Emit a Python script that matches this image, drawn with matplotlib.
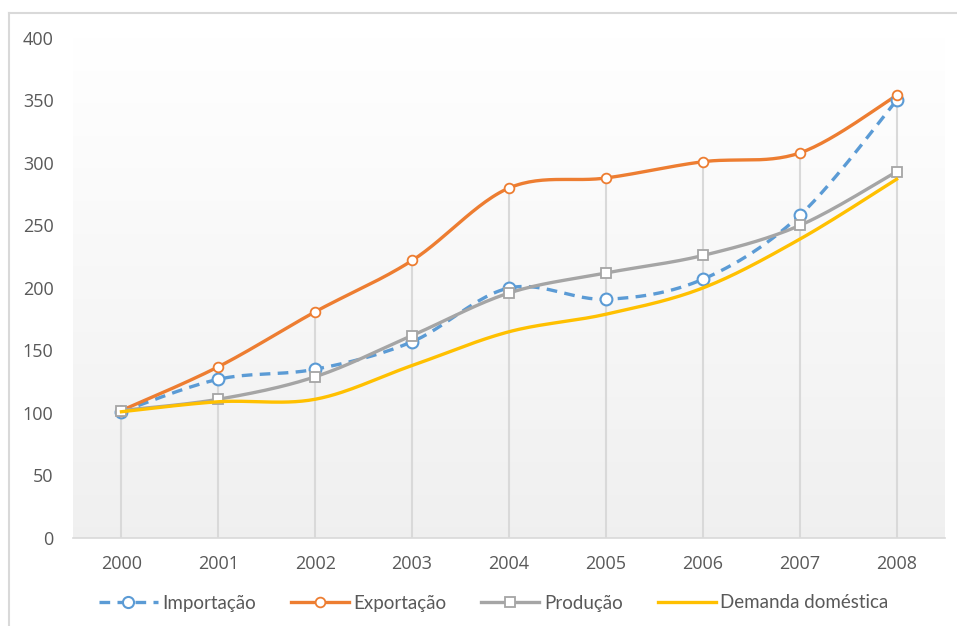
import numpy as np
import matplotlib
matplotlib.use("Agg")
import matplotlib.pyplot as plt
from matplotlib.lines import Line2D

years = ["2000", "2001", "2002", "2003", "2004", "2005", "2006", "2007", "2008"]
importacao = [101, 127, 135, 157, 200, 191, 207, 258, 350]
exportacao = [102, 137, 181, 222, 280, 288, 301, 308, 354]
producao = [102, 111, 129, 162, 196, 212, 226, 250, 293]
demanda = [101, 109, 111, 138, 165, 179, 200, 239, 287]
yticks = [0, 50, 100, 150, 200, 250, 300, 350, 400]

labels = ["Importação", "Exportação", "Produção", "Demanda doméstica"]
colors = ["#5B9BD5", "#ED7D31", "#A5A5A5", "#FFC000"]
text_color = "#595959"


def smooth(xs, ys, n=30):
    """Excel-style smoothing (Catmull-Rom as cubic Bezier)."""
    xs = np.asarray(xs, float)
    ys = np.asarray(ys, float)
    P = np.column_stack([xs, ys])
    out = []
    for i in range(len(P) - 1):
        p0 = P[i - 1] if i > 0 else P[i]
        p1 = P[i]
        p2 = P[i + 1]
        p3 = P[i + 2] if i + 2 < len(P) else P[i + 1]
        c1 = p1 + (p2 - p0) / 6.0
        c2 = p2 - (p3 - p1) / 6.0
        t = np.linspace(0, 1, n)[:, None]
        seg = ((1 - t) ** 3) * p1 + 3 * ((1 - t) ** 2) * t * c1 + 3 * (1 - t) * t ** 2 * c2 + t ** 3 * p2
        out.append(seg if i == 0 else seg[1:])
    s = np.vstack(out)
    return s[:, 0], s[:, 1]


fig = plt.figure(figsize=(9.57, 6.26), dpi=100)
W, H = 957, 626
ax = fig.add_axes([73 / W, 1 - 538 / H, (945 - 73) / W, (538 - 38) / H])

# gradient background of plot area
grad = np.linspace(0.94, 1.0, 256).reshape(-1, 1)
ax.imshow(np.dstack([grad, grad, grad]), extent=[-0.5, 8.5, 0, 400], aspect="auto",
          origin="lower", zorder=0, interpolation="bicubic")

x = np.arange(len(years))
series = [importacao, exportacao, producao, demanda]
tops = np.max(np.array(series), axis=0)
ax.vlines(x, 0, tops, color="#D9D9D9", lw=1.5, zorder=1)

lw = 2.4
# Importação
sx, sy = smooth(x, importacao)
ax.plot(sx, sy, color=colors[0], lw=lw, ls=(0, (3.2, 2.2)), zorder=3)
ax.plot(x, importacao, ls="none", marker="o", ms=8.5, mfc="white", mec=colors[0], mew=1.5, zorder=4)
# Exportação
sx, sy = smooth(x, exportacao)
ax.plot(sx, sy, color=colors[1], lw=lw, zorder=3)
ax.plot(x, exportacao, ls="none", marker="o", ms=7, mfc="white", mec=colors[1], mew=1.3, zorder=4)
# Produção
sx, sy = smooth(x, producao)
ax.plot(sx, sy, color=colors[2], lw=lw, zorder=5)
ax.plot(x, producao, ls="none", marker="s", ms=7, mfc="white", mec=colors[2], mew=1.3, zorder=5)
# Demanda
sx, sy = smooth(x, demanda)
ax.plot(sx, sy, color=colors[3], lw=lw, zorder=6)

ax.set_xlim(-0.5, 8.5)
ax.set_ylim(0, 400)
ax.set_xticks(x)
ax.set_xticklabels(years)
ax.set_yticks(yticks)
for s in ["top", "right", "left"]:
    ax.spines[s].set_visible(False)
ax.spines["bottom"].set_color("#D9D9D9")
ax.spines["bottom"].set_linewidth(1.2)
ax.tick_params(axis="both", length=0, colors=text_color, labelsize=13)
ax.tick_params(axis="x", pad=12)
ax.tick_params(axis="y", pad=14)
for lab in ax.get_xticklabels() + ax.get_yticklabels():
    lab.set_fontfamily("Open Sans")

# legend
handles = [
    Line2D([], [], color=colors[0], lw=lw, ls=(0, (3.2, 2.2)), marker="o", ms=8, mfc="white", mec=colors[0], mew=1.5),
    Line2D([], [], color=colors[1], lw=lw, marker="o", ms=7, mfc="white", mec=colors[1], mew=1.3),
    Line2D([], [], color=colors[2], lw=lw, marker="s", ms=7, mfc="white", mec=colors[2], mew=1.3),
    Line2D([], [], color=colors[3], lw=lw),
]
leg = fig.legend(handles, labels, loc="center", bbox_to_anchor=(494 / W, 1 - 603 / H), ncol=4,
                 frameon=False, handlelength=3.1, handletextpad=0.25, columnspacing=1.85,
                 prop={"family": "Lato", "size": 13.5})
for t in leg.get_texts():
    t.set_color(text_color)

# outer chart border (left and top visible)
fig.add_artist(Line2D([9 / W, 9 / W], [0, 1 - 13 / H], color="#D9D9D9", lw=1.5))
fig.add_artist(Line2D([9 / W, 1], [1 - 13 / H, 1 - 13 / H], color="#D9D9D9", lw=1.5))

fig.savefig("out.png", dpi=100)
